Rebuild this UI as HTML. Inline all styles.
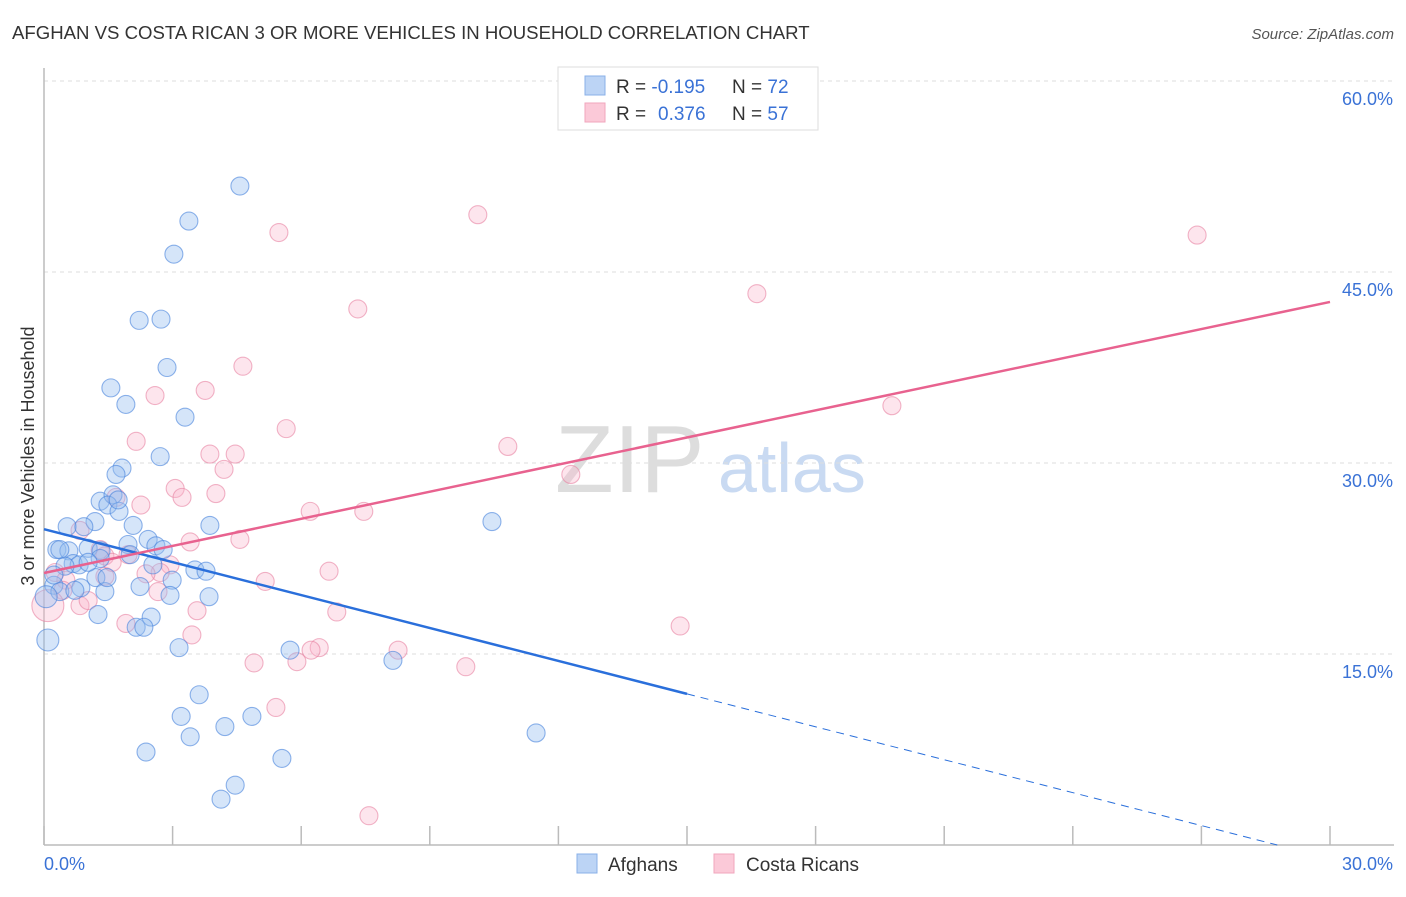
<!DOCTYPE html>
<html><head><meta charset="utf-8"><style>
body{margin:0;background:#fff;font-family:"Liberation Sans",sans-serif;}
svg text{font-family:"Liberation Sans",sans-serif;}
</style></head><body>
<svg id="chart" width="1406" height="892" xmlns="http://www.w3.org/2000/svg">
<text x="12" y="39" font-size="18.6" fill="#333">AFGHAN VS COSTA RICAN 3 OR MORE VEHICLES IN HOUSEHOLD CORRELATION CHART</text>
<text x="1394" y="39" font-size="15" fill="#555" font-style="italic" text-anchor="end">Source: ZipAtlas.com</text>
<g>
<text x="555" y="492" font-size="96" fill="#ddd" font-family="Liberation Serif,serif">ZIP</text>
<text x="718" y="492" font-size="70" fill="#c9daf2">atlas</text>
</g>
<g id="grid"></g>
<g id="axes"></g>
<g id="pts"></g>
<g id="lines"></g>
<text transform="translate(34,456) rotate(-90)" font-size="18" fill="#333" text-anchor="middle">3 or more Vehicles in Household</text>
<g>
<rect x="558" y="67" width="260" height="63" fill="#fff" stroke="#ddd"/>
<rect x="585" y="76" width="20" height="19" fill="#bcd4f5" stroke="#8ab0e8"/>
<rect x="585" y="103" width="20" height="19" fill="#fbc9d8" stroke="#f0a6bd"/>
<text x="616" y="93" font-size="19" fill="#333">R = <tspan fill="#3a72d6">-0.195</tspan></text>
<text x="732" y="93" font-size="19" fill="#333">N = <tspan fill="#3a72d6">72</tspan></text>
<text x="616" y="120" font-size="19" fill="#333">R = <tspan fill="#3a72d6" x="658">0.376</tspan></text>
<text x="732" y="120" font-size="19" fill="#333">N = <tspan fill="#3a72d6">57</tspan></text>
</g>
<g>
<rect x="577" y="854" width="20" height="19" fill="#bcd4f5" stroke="#8ab0e8"/>
<text x="608" y="871" font-size="19" fill="#333">Afghans</text>
<rect x="714" y="854" width="20" height="19" fill="#fbc9d8" stroke="#f0a6bd"/>
<text x="746" y="871" font-size="19" fill="#333">Costa Ricans</text>
</g>
</svg>
<script>
const blueX=[4.57,3.38,3.03,2.22,2.73,2.87,1.56,1.91,3.29,2.71,1.82,1.68,1.31,1.61,1.49,1.75,1.19,0.54,0.93,2.08,3.87,2.43,1.96,2.61,0.30,0.58,1.03,0.37,1.33,0.68,0.82,0.49,1.31,2.54,3.52,3.78,2.99,0.23,1.21,0.86,2.24,1.42,2.94,3.85,0.37,1.26,2.50,2.15,2.33,0.09,3.15,5.74,8.14,3.62,3.20,4.22,4.85,3.41,2.38,11.48,5.55,4.46,4.13,10.45,1.73,0.23,2.78,1.47,2.01,1.03,0.72,0.05];
const blueY=[51.75,49.0,46.4,41.2,41.3,37.5,35.9,34.6,33.6,30.5,29.6,29.1,27.0,27.5,26.7,26.2,25.4,25.0,25.0,25.1,25.1,24.0,23.6,23.5,23.2,23.1,23.3,23.2,23.1,22.1,22.0,21.9,22.5,22.0,21.6,21.5,20.8,20.4,21.0,20.2,20.3,19.9,19.6,19.5,19.9,18.1,17.9,17.1,17.1,16.1,15.5,15.3,14.5,11.8,10.1,9.3,10.1,8.5,7.3,8.8,6.8,4.7,3.6,25.4,27.1,21.2,23.2,21.0,22.8,22.2,20.0,19.5];
const pinkX=[10.12,5.48,26.90,16.63,7.32,4.64,2.59,3.76,5.65,2.15,10.82,3.87,4.46,4.20,12.29,3.06,3.22,4.01,1.68,2.26,6.21,7.46,19.78,4.57,3.41,0.84,1.31,1.42,1.96,0.26,2.94,2.71,1.42,5.16,6.65,0.84,1.03,2.66,3.57,6.83,1.91,3.45,14.84,6.42,8.26,6.23,4.90,5.90,9.84,5.41,7.58,0.51,1.59,2.38,0.44,0.09];
const pinkY=[49.5,48.1,47.9,43.3,42.1,37.6,35.3,35.7,32.7,31.7,31.3,30.7,30.7,29.5,29.1,28.0,27.3,27.6,27.3,26.7,26.2,26.2,34.5,24.0,23.8,24.7,23.2,22.7,22.8,21.4,22.0,21.4,21.1,20.7,21.5,18.8,19.2,19.9,18.4,18.3,17.4,16.5,17.2,15.5,15.3,15.3,14.3,14.4,14.0,10.8,2.3,20.8,22.2,21.3,20.0,18.8];
const blueTrend=[24.8,-1.06];
const pinkTrend=[21.36,42.65];
const yTicks=[15,30,45,60];
const xTicks=[0,3,6,9,12,15,18,21,24,27,30];
const xLabels=["0.0%","30.0%"];

const NS="http://www.w3.org/2000/svg";
const X0=44,X1=1330,Y0=845;
const sx=v=>X0+v*(X1-X0)/30;
const sy=v=>Y0-v*191/15;
function mk(p,t,a){const e=document.createElementNS(NS,t);for(const k in a)e.setAttribute(k,a[k]);p.appendChild(e);return e;}
const grid=document.getElementById('grid'),axes=document.getElementById('axes'),pts=document.getElementById('pts'),lines=document.getElementById('lines');
yTicks.forEach(v=>{
 const l=mk(grid,'line',{x1:X0,x2:1394,y1:sy(v),y2:sy(v),stroke:'#ddd','stroke-dasharray':'4,4'});
 
 
 const t=mk(axes,'text',{x:1393,y:sy(v)+24,'font-size':18,fill:'#3a72d6','text-anchor':'end'});
 t.textContent=v.toFixed(1)+'%';
 
 
});
const ax=mk(axes,'line',{x1:X0,x2:X1+64,y1:Y0,y2:Y0,stroke:'#bbb','stroke-width':1.5});


const ay=mk(axes,'line',{x1:X0,x2:X0,y1:68,y2:Y0,stroke:'#bbb','stroke-width':1.5});


xTicks.forEach(v=>{
 const l=mk(axes,'line',{x1:sx(v),x2:sx(v),y1:826,y2:Y0,stroke:'#bbb','stroke-width':1.5});
 
 
});
const t0=mk(axes,'text',{x:44,y:870,'font-size':18,fill:'#3a72d6'});t0.textContent=xLabels[0];


const t1=mk(axes,'text',{x:1393,y:870,'font-size':18,fill:'#3a72d6','text-anchor':'end'});t1.textContent=xLabels[1];



function dots(xs,ys,fill,stroke,name){
 xs.forEach((x,i)=>{
  const big=(x<0.12);
  const c=mk(pts,'circle',{cx:sx(x),cy:sy(ys[i]),r:big?(name==='pink-point'?16:11):9,fill:fill,stroke:stroke,'stroke-width':1.1});
  
  
 });
}
dots(pinkX,pinkY,'rgba(248,180,202,0.35)','rgba(232,130,162,0.6)','pink-point');
dots(blueX,blueY,'rgba(150,190,240,0.4)','rgba(70,130,220,0.6)','blue-point');

const bAt=x=>blueTrend[0]+(blueTrend[1]-blueTrend[0])*x/30;
const bs=mk(lines,'line',{x1:sx(0),y1:sy(bAt(0)),x2:sx(15),y2:sy(bAt(15)),stroke:'#2a6fdb','stroke-width':2.5});


const xEnd=Math.min(30,-blueTrend[0]*30/(blueTrend[1]-blueTrend[0]));
const bd=mk(lines,'line',{x1:sx(15),y1:sy(bAt(15)),x2:sx(xEnd),y2:sy(bAt(xEnd)),stroke:'#2a6fdb','stroke-width':1,'stroke-dasharray':'8,6'});


const pl=mk(lines,'line',{x1:sx(0),y1:sy(pinkTrend[0]),x2:sx(30),y2:sy(pinkTrend[1]),stroke:'#e8628f','stroke-width':2.5});


</script>
</body></html>
